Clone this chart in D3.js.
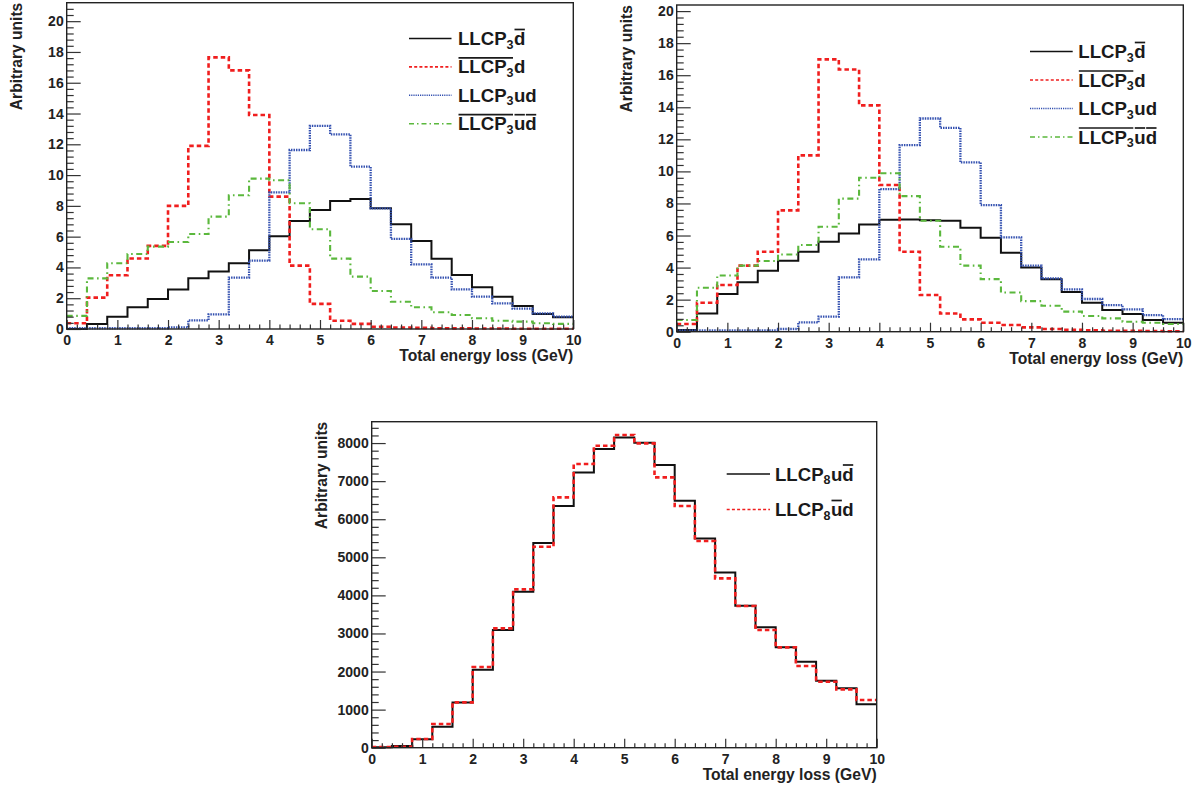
<!DOCTYPE html>
<html><head><meta charset="utf-8">
<script src="https://cdn.jsdelivr.net/npm/d3@7"></script>
<style>
html,body{margin:0;padding:0;background:#fff;}
svg{display:block;font-family:"Liberation Sans",Arial,Helvetica,sans-serif;}
</style></head>
<body><svg id="chart" width="1195" height="789"></svg>
<script>
// ---------- DATA ----------
const binEdges = [0,0.4,0.8,1.2,1.6,2.0,2.4,2.8,3.2,3.6,4.0,4.4,4.8,5.2,5.6,6.0,6.4,6.8,7.2,7.6,8.0,8.4,8.8,9.2,9.6,10.0];

// Panel 1 (top left)
const p1_llcp3_dbar   = [0.0,0.33,0.8,1.41,1.95,2.56,3.29,3.73,4.27,5.11,6.02,7.02,7.73,8.32,8.45,7.84,6.8,5.72,4.57,3.51,2.71,2.1,1.5,0.98,0.76];
const p1_llcp3bar_d   = [0.37,2.04,3.49,4.58,5.4,8.0,11.9,17.65,16.8,13.9,8.6,4.12,1.63,0.54,0.33,0.15,0.1,0.07,0.05,0.04,0.03,0.03,0.02,0.02,0.02];
const p1_llcp3_ud     = [0.05,0.05,0.05,0.05,0.05,0.1,0.56,0.95,3.34,4.44,8.88,11.63,13.2,12.65,10.55,7.84,5.85,4.2,3.34,2.58,2.1,1.67,1.32,1.02,0.8];
const p1_llcp3bar_ubardbar = [0.85,3.29,4.27,4.87,5.35,5.65,6.17,7.3,8.69,9.77,9.66,8.17,6.48,4.57,3.4,2.47,1.77,1.41,1.09,0.91,0.7,0.54,0.48,0.37,0.33];

// Panel 2 (top right)
const p2_llcp3_dbar   = [0.1,1.14,2.35,3.08,3.8,4.43,4.99,5.61,6.13,6.69,6.99,7.0,6.96,6.92,6.49,5.86,4.93,4.01,3.27,2.47,1.81,1.35,1.1,0.73,0.56];
const p2_llcp3bar_d   = [0.48,1.81,2.91,4.12,4.99,7.57,11.0,16.99,16.36,14.12,9.15,4.99,2.29,1.14,0.77,0.56,0.42,0.27,0.17,0.12,0.08,0.06,0.05,0.04,0.03];
const p2_llcp3_ud     = [0.08,0.08,0.08,0.08,0.08,0.17,0.58,0.94,3.39,4.51,8.9,11.64,13.3,12.72,10.56,7.9,5.88,4.12,3.33,2.64,2.04,1.66,1.39,1.04,0.79];
const p2_llcp3bar_ubardbar = [0.73,2.74,3.51,4.12,4.41,4.82,5.41,6.55,8.3,9.6,9.88,8.46,6.92,5.3,4.12,3.28,2.45,1.91,1.62,1.25,0.98,0.83,0.62,0.56,0.48];

// Panel 3 (bottom)
const p3_llcp8_udbar  = [10,44,219,551,1190,2048,3090,4096,5374,6346,7230,7843,8149,8009,7423,6486,5497,4604,3729,3160,2635,2258,1759,1558,1138];
const p3_llcp8_ubard  = [20,26,228,621,1190,2118,3134,4158,5278,6574,7449,7930,8210,7991,7099,6346,5427,4447,3720,3090,2635,2144,1733,1532,1252];

const xTicks = [0,1,2,3,4,5,6,7,8,9,10];
const yTicksTop = [0,2,4,6,8,10,12,14,16,18,20];
const yTicksBottom = [0,1000,2000,3000,4000,5000,6000,7000,8000];

const xTitle = "Total energy loss (GeV)";
const yTitle = "Arbitrary units";

// legend labels (segments: text, sub = subscript, over = overline)
const legTop = [
  [{t:"LLCP"},{t:"3",sub:true},{t:"d",over:true}],
  [{t:"LLCP",over:true,g:1},{t:"3",sub:true,over:true,g:1},{t:"d"}],
  [{t:"LLCP"},{t:"3",sub:true},{t:"ud"}],
  [{t:"LLCP",over:true,g:1},{t:"3",sub:true,over:true,g:1},{t:"u",over:true,g:2},{t:"d",over:true,g:3}]
];
const legBottom = [
  [{t:"LLCP"},{t:"8",sub:true},{t:"u"},{t:"d",over:true}],
  [{t:"LLCP"},{t:"8",sub:true},{t:"u",over:true},{t:"d"}]
];

// ---------- STYLES ----------
const styles = {
  black: {color:"#111", width:2, dash:null, lw:1.4, ldash:null},
  red:   {color:"#f01e1e", width:2.6, dash:"4.5,3", lw:1.7, ldash:"3,2.2"},
  blue:  {color:"#3350b0", width:2.3, dash:"1.5,1", lw:1.4, ldash:"1.2,1"},
  green: {color:"#5bb83d", width:2.1, dash:"6,3.5,1.6,3.5", lw:1.6, ldash:"5,3,1.5,3"}
};

const svg = d3.select("#chart");

function drawPanel(cfg){
  const {left,right,top,bottom,ymax,yTicks,yMinorStep,series,legend,legendPos} = cfg;
  const x = d3.scaleLinear().domain([0,10]).range([left,right]);
  const y = d3.scaleLinear().domain([0,ymax]).range([bottom,top]);
  const g = svg.append("g");

  // histograms
  const line = d3.line().x(d=>x(d[0])).y(d=>y(d[1])).curve(d3.curveStepAfter);
  series.forEach(s=>{
    const pts = s.values.map((v,i)=>[binEdges[i],v]);
    pts.push([binEdges[binEdges.length-1], s.values[s.values.length-1]]);
    const st = styles[s.style];
    g.append("path").attr("d",line(pts)).attr("fill","none")
      .attr("stroke",st.color).attr("stroke-width",st.width)
      .attr("stroke-dasharray",st.dash).attr("stroke-linejoin","miter");
  });

  // x axis
  const xMinor = d3.range(0,10.0001,0.2).filter(v=>Math.abs(v-Math.round(v))>1e-6);
  g.append("g").attr("transform",`translate(0,${bottom})`)
    .call(d3.axisBottom(x).tickValues(xTicks).tickFormat(d3.format("d")).tickSizeInner(-9).tickSizeOuter(0).tickPadding(6));
  g.append("g").attr("transform",`translate(0,${bottom})`)
    .call(d3.axisBottom(x).tickValues(xMinor).tickFormat("").tickSizeInner(-4.5).tickSizeOuter(0));
  // y axis
  const yMinor = d3.range(0,ymax,yMinorStep).filter(v=>!yTicks.some(t=>Math.abs(t-v)<1e-6));
  g.append("g").attr("transform",`translate(${left},0)`)
    .call(d3.axisLeft(y).tickValues(yTicks).tickFormat(d3.format("d")).tickSizeInner(-14).tickSizeOuter(0).tickPadding(3));
  g.append("g").attr("transform",`translate(${left},0)`)
    .call(d3.axisLeft(y).tickValues(yMinor).tickFormat("").tickSizeInner(-7).tickSizeOuter(0));
  g.selectAll(".domain").remove();
  g.selectAll(".tick line").attr("stroke","#333").attr("stroke-width",1.2);
  g.selectAll(".tick text").attr("font-size",14).attr("font-weight","bold").attr("fill","#222")
    .attr("font-family","'Liberation Sans',Arial,sans-serif");

  // frame
  g.append("rect").attr("x",left).attr("y",top).attr("width",right-left).attr("height",bottom-top)
    .attr("fill","none").attr("stroke","#222").attr("stroke-width",1.4);

  // titles
  g.append("text").attr("x",right).attr("y",bottom+32).attr("text-anchor","end")
    .attr("font-size",15.7).attr("font-weight","bold").attr("fill","#222").text(xTitle);
  g.append("text").attr("transform",`translate(${left-45},${top}) rotate(-90)`).attr("text-anchor","end")
    .attr("font-size",15.6).attr("font-weight","bold").attr("fill","#222").text(yTitle);

  // legend
  legend.forEach((segs,i)=>{
    const s = styles[series[i].style];
    const base = legendPos.y0 + i*legendPos.dy;
    const cy = base - 6.5;
    g.append("line").attr("x1",legendPos.lx1).attr("x2",legendPos.lx2).attr("y1",cy).attr("y2",cy)
      .attr("stroke",s.color).attr("stroke-width",s.lw).attr("stroke-dasharray",s.ldash);
    let cx = legendPos.tx;
    const groups = {};
    segs.forEach((seg,k)=>{
      const fs = seg.sub ? 12.5 : 18.6;
      const t = g.append("text").attr("x",cx).attr("y",seg.sub? base+3.5 : base)
        .attr("font-size",fs).attr("font-weight","bold").attr("fill","#1a1a1a").text(seg.t);
      const w = t.node().getComputedTextLength();
      if(seg.over){
        const key = seg.g!==undefined ? seg.g : ("k"+k);
        if(!groups[key]) groups[key] = {x1:cx, x2:cx+w};
        else groups[key].x2 = cx+w;
      }
      cx += w + (seg.sub?0.5:0);
    });
    Object.values(groups).forEach(o=>{
      g.append("line").attr("x1",o.x1+0.5).attr("x2",o.x2-0.5).attr("y1",base-15.5).attr("y2",base-15.5)
        .attr("stroke","#1a1a1a").attr("stroke-width",1.7);
    });
  });
}

drawPanel({left:66.7,right:573.3,top:2.7,bottom:329,ymax:21.2,yTicks:yTicksTop,yMinorStep:0.4,
  series:[{values:p1_llcp3_dbar,style:"black"},{values:p1_llcp3bar_d,style:"red"},
          {values:p1_llcp3_ud,style:"blue"},{values:p1_llcp3bar_ubardbar,style:"green"}],
  legend:legTop, legendPos:{lx1:409,lx2:451.5,tx:458,y0:45,dy:28.4}});

drawPanel({left:676.7,right:1183.3,top:5,bottom:331.7,ymax:20.38,yTicks:yTicksTop,yMinorStep:0.4,
  series:[{values:p2_llcp3_dbar,style:"black"},{values:p2_llcp3bar_d,style:"red"},
          {values:p2_llcp3_ud,style:"blue"},{values:p2_llcp3bar_ubardbar,style:"green"}],
  legend:legTop, legendPos:{lx1:1030,lx2:1072.7,tx:1078.3,y0:58,dy:28.5}});

drawPanel({left:371.7,right:876.7,top:421.7,bottom:747.7,ymax:8561,yTicks:yTicksBottom,yMinorStep:200,
  series:[{values:p3_llcp8_udbar,style:"black"},{values:p3_llcp8_ubard,style:"red"}],
  legend:legBottom, legendPos:{lx1:726.7,lx2:770,tx:775,y0:480.5,dy:35.5}});
</script>
</body></html>
